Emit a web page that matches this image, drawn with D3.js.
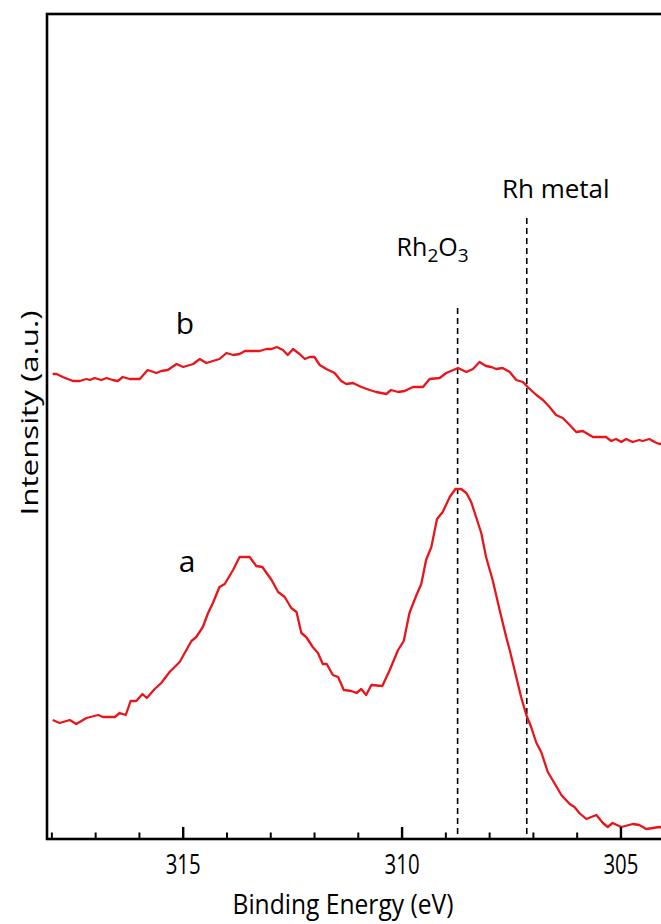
<!DOCTYPE html>
<html>
<head>
<meta charset="utf-8">
<script src="https://cdn.jsdelivr.net/npm/d3@7"></script>
<style>
  html, body { margin: 0; padding: 0; background: #fff; }
  svg { display: block; }
  text { font-family: "Open Sans", "DejaVu Sans", sans-serif; fill: #000; }
</style>
</head>
<body>
<div class="chart"></div>
<script>
// ---- data ----
// spectrum b (upper trace): binding energy (eV) and intensity (a.u.)
const energyB = [317.97, 317.88, 317.74, 317.51, 317.35, 317.20, 317.12, 317.01, 316.86, 316.74,
  316.60, 316.48, 316.37, 316.21, 315.98, 315.80, 315.60, 315.49, 315.34, 315.14,
  314.99, 314.76, 314.61, 314.46, 314.16, 314.00, 313.85, 313.70, 313.58, 313.24,
  313.09, 312.97, 312.85, 312.71, 312.60, 312.48, 312.33, 312.21, 312.10, 311.99,
  311.87, 311.72, 311.53, 311.38, 311.26, 311.11, 310.92, 310.73, 310.58, 310.35,
  310.24, 310.08, 309.93, 309.74, 309.51, 309.36, 309.13, 308.98, 308.71, 308.52,
  308.37, 308.22, 308.07, 307.95, 307.84, 307.69, 307.53, 307.38, 307.23, 307.12,
  306.92, 306.77, 306.62, 306.47, 306.32, 306.16, 306.01, 305.86, 305.63, 305.40,
  305.33, 305.21, 305.10, 304.98, 304.87, 304.72, 304.57, 304.49, 304.34, 304.22,
  304.11, 303.95, 303.80];
const intensityB = [465, 465, 462, 458, 458, 460, 459, 461, 459, 461,
  459, 458, 462, 460, 460, 469, 466, 468, 469, 475,
  472, 475, 480, 476, 480, 486, 484, 485, 488, 488,
  490, 490, 492, 489, 484, 490, 485, 480, 482, 482,
  474, 470, 466, 458, 455, 456, 452, 449, 447, 445,
  449, 447, 448, 452, 452, 460, 461, 466, 471, 467,
  470, 477, 473, 472, 470, 471, 467, 459, 457, 452,
  444, 439, 432, 424, 421, 414, 407, 408, 402, 402,
  402, 398, 400, 397, 400, 397, 399, 398, 400, 397,
  395, 396, 394];

// spectrum a (lower trace)
const energyA = [317.97, 317.81, 317.58, 317.43, 317.20, 316.93, 316.82, 316.55, 316.44, 316.30,
  316.19, 316.06, 315.92, 315.82, 315.64, 315.49, 315.30, 315.07, 314.80, 314.69,
  314.54, 314.42, 314.31, 314.16, 314.04, 313.85, 313.70, 313.47, 313.32, 313.18,
  312.97, 312.82, 312.67, 312.52, 312.40, 312.29, 312.18, 312.03, 311.91, 311.80,
  311.71, 311.57, 311.45, 311.32, 311.15, 311.03, 310.92, 310.81, 310.69, 310.44,
  310.27, 310.08, 309.95, 309.82, 309.66, 309.55, 309.44, 309.32, 309.19, 309.06,
  308.90, 308.77, 308.64, 308.52, 308.41, 308.29, 308.18, 308.07, 307.92, 307.76,
  307.61, 307.53, 307.38, 307.27, 307.15, 307.04, 306.92, 306.81, 306.66, 306.51,
  306.35, 306.16, 306.05, 305.94, 305.78, 305.55, 305.40, 305.29, 305.18, 304.98,
  304.72, 304.57, 304.41, 304.26, 304.11, 303.95, 303.80];
const intensityA = [119, 116, 119, 115, 121, 124, 122, 122, 126, 124,
  138, 138, 145, 141, 150, 156, 167, 177, 198, 202,
  212, 226, 236, 252, 255, 269, 282, 282, 273, 272,
  259, 247, 242, 231, 227, 206, 202, 192, 186, 175,
  175, 164, 162, 149, 148, 146, 150, 144, 154, 153,
  169, 189, 198, 226, 244, 255, 279, 292, 320, 327,
  342, 350, 350, 346, 337, 321, 306, 282, 259, 229,
  202, 189, 162, 142, 124, 112, 96, 87, 67, 56,
  44, 35, 32, 26, 20, 24, 16, 12, 16, 12,
  15, 14, 10, 11, 12, 11, 12];

// reference lines: label, energy (eV), top of the line (intensity units)
const refNames = ["Rh2O3", "Rh metal"];
const refEnergy = [308.72, 307.14];
const refTop = [531, 621];

// axis ticks
const majorTicks = [315, 310, 305];
const minorTicks = [318, 317, 316, 314, 313, 312, 311, 309, 308, 307, 306, 304];

(function() {

  let svg = "";

  window.onload = function() {
    svg = d3.select('.chart').append('svg')
      .attr('width', 661)
      .attr('height', 924);
    drawChart();
  };

  function drawChart() {
    let margin = { left: 47, top: 14, bottom: 839, right: 708 };

    // binding energy runs right to left
    let xScale = d3.scaleLinear()
      .domain([318.1, 303.0])
      .range([margin.left, margin.right]);

    let yScale = d3.scaleLinear()
      .domain([0, 825])
      .range([margin.bottom, margin.top]);

    // dashed reference lines
    svg.selectAll('.refLine')
      .data(refEnergy)
      .enter()
      .append('line')
        .attr('class', 'refLine')
        .attr('x1', (d) => xScale(d))
        .attr('x2', (d) => xScale(d))
        .attr('y1', (d, i) => yScale(refTop[i]))
        .attr('y2', yScale(0))
        .attr('stroke', '#000')
        .attr('stroke-width', 1.6)
        .attr('stroke-dasharray', '6,4');

    // spectra
    let line = d3.line()
      .x((d) => xScale(d[0]))
      .y((d) => yScale(d[1]));

    let seriesA = energyA.map((e, i) => [e, intensityA[i]]);
    let seriesB = energyB.map((e, i) => [e, intensityB[i]]);

    svg.selectAll('.spectrum')
      .data([seriesA, seriesB])
      .enter()
      .append('path')
        .attr('class', 'spectrum')
        .attr('d', line)
        .attr('fill', 'none')
        .attr('stroke', '#e8151b')
        .attr('stroke-width', 2.3)
        .attr('stroke-linejoin', 'round');

    // frame
    svg.append('rect')
      .attr('x', margin.left)
      .attr('y', margin.top)
      .attr('width', margin.right - margin.left)
      .attr('height', margin.bottom - margin.top)
      .attr('fill', 'none')
      .attr('stroke', '#000')
      .attr('stroke-width', 2.6);

    // x axis: inward ticks, minor every 1 eV
    let xMinor = d3.axisBottom(xScale)
      .tickValues(minorTicks)
      .tickSizeInner(-6.5)
      .tickSizeOuter(0)
      .tickFormat('');
    svg.append('g')
      .attr('transform', 'translate(0,' + margin.bottom + ')')
      .call(xMinor)
      .call((g) => g.select('.domain').remove())
      .call((g) => g.selectAll('line').attr('stroke-width', 2));

    let xMajor = d3.axisBottom(xScale)
      .tickValues(majorTicks)
      .tickSizeInner(-12)
      .tickSizeOuter(0)
      .tickPadding(16)
      .tickFormat(d3.format('d'));
    svg.append('g')
      .attr('transform', 'translate(0,' + margin.bottom + ')')
      .call(xMajor)
      .call((g) => g.select('.domain').remove())
      .call((g) => g.selectAll('line').attr('stroke-width', 2.4))
      .call((g) => g.selectAll('text')
        .attr('font-size', 27)
        .attr('font-family', '"Open Sans", sans-serif')
        .attr('textLength', 35)
        .attr('lengthAdjust', 'spacingAndGlyphs'));

    // axis titles
    svg.append('text')
      .attr('x', 343)
      .attr('y', 914)
      .attr('text-anchor', 'middle')
      .attr('font-size', 27)
      .attr('textLength', 221)
      .attr('lengthAdjust', 'spacingAndGlyphs')
      .text('Binding Energy (eV)');

    svg.append('text')
      .attr('transform', 'translate(38, 413)rotate(-90)')
      .attr('text-anchor', 'middle')
      .attr('font-size', 24)
      .attr('textLength', 205)
      .attr('lengthAdjust', 'spacingAndGlyphs')
      .text('Intensity (a.u.)');

    // trace labels
    svg.append('text')
      .attr('x', 185)
      .attr('y', 334)
      .attr('text-anchor', 'middle')
      .attr('font-size', 30)
      .text('b');

    svg.append('text')
      .attr('x', 187)
      .attr('y', 572)
      .attr('text-anchor', 'middle')
      .attr('font-size', 30)
      .text('a');

    // reference line labels
    let oxide = svg.append('text')
      .attr('x', xScale(refEnergy[0]) - 25)
      .attr('y', 256)
      .attr('text-anchor', 'middle')
      .attr('font-size', 25);
    oxide.append('tspan').text('Rh');
    oxide.append('tspan').attr('font-size', 19).attr('dy', 6).text('2');
    oxide.append('tspan').attr('dy', -6).text('O');
    oxide.append('tspan').attr('font-size', 19).attr('dy', 6).text('3');

    svg.append('text')
      .attr('x', xScale(refEnergy[1]) + 29)
      .attr('y', 198)
      .attr('text-anchor', 'middle')
      .attr('font-size', 26)
      .text(refNames[1]);
  }

})();
</script>
</body>
</html>
